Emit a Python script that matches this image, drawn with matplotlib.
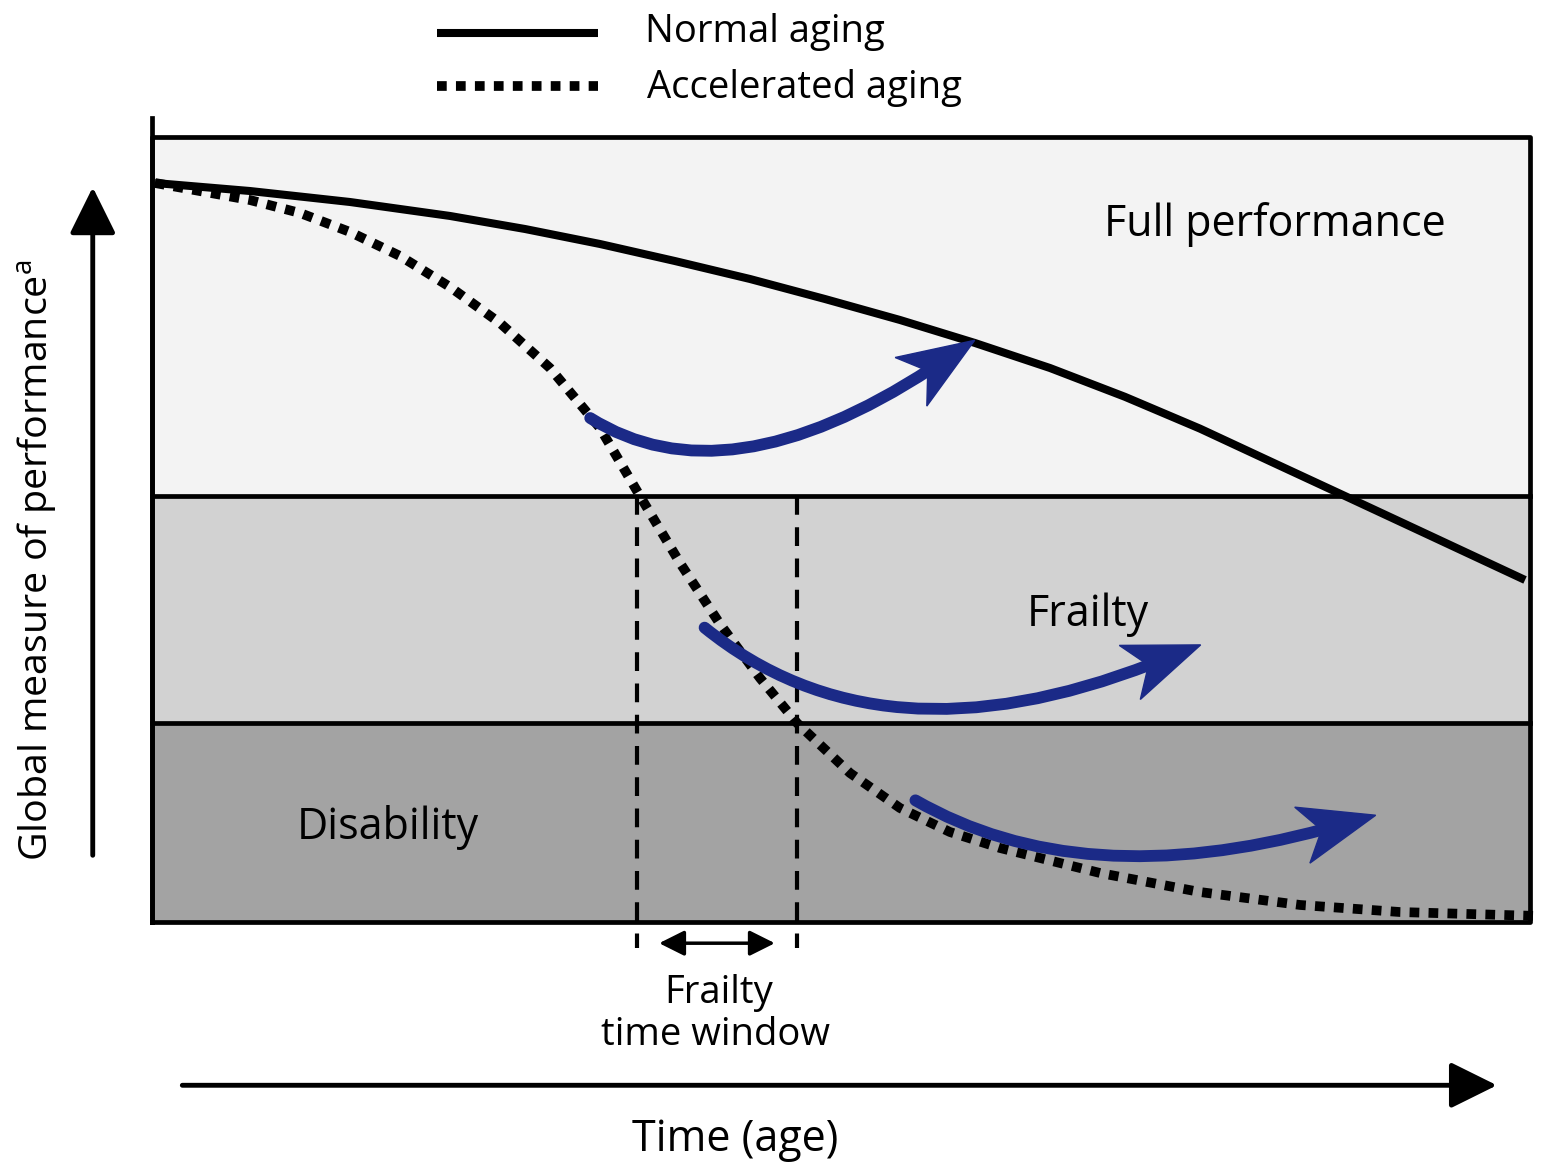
import numpy as np
import matplotlib.pyplot as plt
from matplotlib.patches import PathPatch, Polygon
from matplotlib.path import Path
from matplotlib.transforms import IdentityTransform

plt.rcParams['font.family'] = ['Open Sans', 'DejaVu Sans']
plt.rcParams['mathtext.fontset'] = 'custom'
plt.rcParams['mathtext.rm'] = 'Open Sans'

# --- data (time 0..100, performance 0..100) ---
band_limits = [0, 25.35, 54.27, 100]          # disability / frailty / full performance
band_colors = ['#a3a3a3', '#d2d2d2', '#f3f3f3']

normal_t = [0.22, 7.11, 14.37, 21.63, 27.07, 32.51, 37.95, 43.40, 48.84, 54.28,
            59.72, 65.17, 70.61, 76.05, 81.13, 86.57, 93.11, 99.64]
normal_p = [94.14, 93.12, 91.72, 89.94, 88.28, 86.37, 84.20, 81.91, 79.36, 76.69,
            73.76, 70.57, 66.90, 62.85, 58.70, 54.27, 48.92, 43.57]

accel_t = [0.22, 7.11, 10.74, 14.37, 18.00, 21.63, 25.25, 28.88, 32.51, 35.41, 38.32,
           41.22, 44.12, 46.81, 50.65, 54.28, 57.91, 61.54, 68.80, 76.05, 83.31,
           90.57, 100.73]
accel_p = [94.14, 91.97, 90.32, 87.90, 84.84, 80.89, 76.31, 70.57, 62.93, 54.27, 45.73,
           37.96, 31.08, 25.35, 18.98, 14.52, 11.46, 9.43, 6.24, 3.82, 2.17,
           1.27, 0.76]

window_t = [35.2, 46.8]   # frailty time window

# blue transition arrows: start, control, tip
arrow_start = [(31.8, 64.2), (40.1, 37.5), (55.4, 15.5)]
arrow_ctrl = [(41.6, 53.4), (52.8, 19.4), (67.4, 3.4)]
arrow_tip = [(59.7, 74.1), (76.1, 35.3), (88.8, 13.6)]

blue = '#1b2a87'

fig = plt.figure(figsize=(15.42, 11.63), dpi=100)
ax = fig.add_axes([152 / 1542, 241 / 1163, 1378 / 1542, 785 / 1163])
ax.set_xlim(0, 100)
ax.set_ylim(0, 100)
ax.axis('off')

# bands
for lo, hi, c in zip(band_limits[:-1], band_limits[1:], band_colors):
    ax.axhspan(lo, hi, color=c, zorder=0)
for b in band_limits[1:-1]:
    ax.plot([0, 100], [b, b], color='black', lw=3.4, zorder=1, clip_on=False)
ax.plot([0, 100, 100, 0, 0], [0, 0, 100, 100, 0], color='black', lw=3.4, zorder=1,
        clip_on=False)
ax.plot([0, 0], [0, 102.4], color='black', lw=3.4, zorder=1, clip_on=False)

# frailty window dashed lines
for t in window_t:
    ax.plot([t, t], [band_limits[2], -3.3], color='black', lw=3, dashes=(4.5, 3),
            zorder=2, clip_on=False)
ax.annotate('', xy=(window_t[0] + 1.6, -2.7), xytext=(window_t[1] - 1.6, -2.7),
            arrowprops=dict(arrowstyle='<|-|>,head_length=1.1,head_width=0.55',
                            mutation_scale=14, lw=2.5, color='black',
                            shrinkA=0, shrinkB=0), annotation_clip=False)

# curves
ax.plot(normal_t, normal_p, color='black', lw=5.8, solid_capstyle='butt',
        solid_joinstyle='round', zorder=3, clip_on=False)
ax.plot(accel_t, accel_p, color='black', lw=7, dashes=(1, 0.95), zorder=3,
        clip_on=False)

# blue arrows with notched heads (head drawn in pixels)
head_len, head_half, notch = 76, 29, 56
to_data = ax.transData.inverted()
for s, c, e in zip(arrow_start, arrow_ctrl, arrow_tip):
    pc, pe = ax.transData.transform([c, e])
    u = (pe - pc) / np.hypot(*(pe - pc))
    n = np.array([-u[1], u[0]])
    shaft_end = to_data.transform(pe - (notch - 4) * u)
    path = Path([s, c, shaft_end], [Path.MOVETO, Path.CURVE3, Path.CURVE3])
    ax.add_patch(PathPatch(path, facecolor='none', edgecolor=blue, lw=8.5,
                           capstyle='round', zorder=4))
    head = [pe, pe - head_len * u + head_half * n, pe - notch * u,
            pe - head_len * u - head_half * n]
    ax.add_patch(Polygon(head, closed=True, color=blue, transform=IdentityTransform(),
                         zorder=5))

# region labels
ax.text(81.5, 88.8, 'Full performance', fontsize=31, ha='center', va='center')
ax.text(67.9, 39.1, 'Frailty', fontsize=31, ha='center', va='center')
ax.text(17.1, 12.0, 'Disability', fontsize=31, ha='center', va='center')
ax.text(41.1, -9.0, 'Frailty', fontsize=27.5, ha='center', va='center')
ax.text(40.9, -14.4, 'time window', fontsize=27.5, ha='center', va='center')

# axis arrows and labels
ax.annotate('', xy=(-4.3, 93.6), xytext=(-4.3, 8.5),
            arrowprops=dict(arrowstyle='-|>,head_length=1.03,head_width=0.51',
                            mutation_scale=28, lw=3.5, color='black',
                            shrinkA=0, shrinkB=0), annotation_clip=False)
ax.annotate('', xy=(97.6, -20.8), xytext=(2.2, -20.8),
            arrowprops=dict(arrowstyle='-|>,head_length=1.03,head_width=0.51',
                            mutation_scale=28, lw=3.5, color='black',
                            shrinkA=0, shrinkB=0), annotation_clip=False)
ax.text(-8.4, 46.1, r'Global measure of performance$^{\mathrm{a}}$', fontsize=28.4,
        rotation=90, ha='center', va='center')
ax.text(42.3, -27.8, 'Time (age)', fontsize=31, ha='center', va='center')

# legend
ax.plot([20.7, 32.4], [113.2, 113.2], color='black', lw=5.8, solid_capstyle='butt',
        clip_on=False)
ax.plot([20.7, 32.4], [106.5, 106.5], color='black', lw=7, dashes=(1, 0.95),
        clip_on=False)
ax.text(35.8, 113.4, 'Normal aging', fontsize=27.5, ha='left', va='center')
ax.text(35.9, 106.3, 'Accelerated aging', fontsize=27.5, ha='left', va='center')

fig.savefig('out.png', dpi=100)
